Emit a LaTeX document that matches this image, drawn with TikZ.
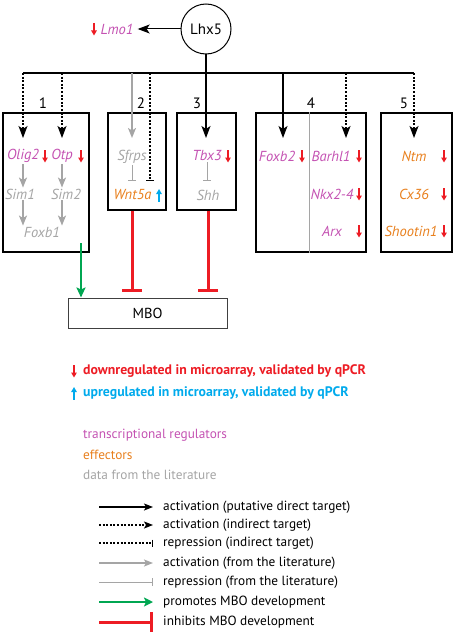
\documentclass[tikz,border=0pt]{standalone}
\usepackage{fontspec}
\setmainfont{PT Sans}
\usetikzlibrary{arrows.meta,positioning}

\definecolor{regul}{RGB}{196,82,178}
\definecolor{effect}{RGB}{232,128,30}
\definecolor{litgray}{RGB}{165,165,165}
\definecolor{downred}{RGB}{237,28,36}
\definecolor{upblue}{RGB}{0,170,236}
\definecolor{mbogreen}{RGB}{0,166,81}

\tikzset{
  gene/.style={font=\itshape\fontsize{14.5}{14.5}\selectfont, inner sep=1pt},
  reg/.style={gene, text=regul},
  eff/.style={gene, text=effect},
  lit/.style={gene, text=litgray},
  grp/.style={font=\fontsize{15}{15}\selectfont},
  box/.style={draw, line width=1.2pt, inner sep=0pt},
  direct/.style={line width=1.2pt, -{Stealth[length=12pt,width=9pt,inset=3pt]}},
  indirect/.style={direct, dash pattern=on 2pt off 1.6pt},
  indrep/.style={line width=1.2pt, dash pattern=on 2pt off 1.6pt, -{Bar[width=8pt]}},
  litact/.style={litgray, line width=1.5pt, -{Stealth[length=10pt,width=8pt,inset=2.5pt]}},
  litrep/.style={litgray, line width=1pt, -{Bar[width=8pt]}},
  promote/.style={mbogreen, line width=2.6pt, -{Stealth[length=10pt,width=9pt,inset=2pt]}},
  inhib/.style={downred, line width=3pt, -{Bar[width=20pt,line width=3pt]}},
  legtxt/.style={anchor=west, inner sep=0pt, font=\fontsize{13.3}{13.3}\selectfont},
  legbold/.style={legtxt, font=\bfseries\fontsize{13.8}{13.8}\selectfont},
  legdirect/.style={line width=1.2pt, -{Stealth[length=9pt,width=7pt,inset=2pt]}},
  legindirect/.style={legdirect, dash pattern=on 2pt off 1.6pt},
  legindrep/.style={line width=1.2pt, dash pattern=on 2pt off 1.6pt, -{Bar[width=7pt]}},
  leglitact/.style={litact, -{Stealth[length=9pt,width=7pt,inset=2pt]}},
  leglitrep/.style={litrep},
  legpromote/.style={promote, -{Stealth[length=9pt,width=9pt,inset=2pt]}},
  leginhib/.style={inhib},
  dn/.pic={\draw[downred, line width=1.6pt, -{Triangle[length=5pt,width=5.5pt]}] (0,-6) -- (0,6.5);},
  up/.pic={\draw[upblue, line width=1.6pt, -{Triangle[length=5pt,width=5.5pt]}] (0,6.5) -- (0,-6);},
}

\begin{document}
\begin{tikzpicture}[x=1pt,y=-1pt]
\useasboundingbox (0,0) rectangle (454,634);
% Lhx5 et sa cible directe Lmo1
\node[circle, draw, line width=1pt, minimum size=50pt, font=\fontsize{15}{15}\selectfont] (lhx5) at (206,29) {Lhx5};
\node[reg] (lmo1) at (117,29) {Lmo1};
\pic at (94,29) {dn};
\draw[direct, line width=1pt, shorten >=3pt] (lhx5.west) -- (lmo1.east);
% barre de distribution
\coordinate (top) at (206,73);
\coordinate (d1) at (23,73);
\coordinate (d2) at (62,73);
\coordinate (d3) at (132,73);
\coordinate (d4) at (150,73);
\coordinate (d5) at (206,73);
\coordinate (d6) at (283,73);
\coordinate (d7) at (346,73);
\coordinate (d8) at (414,73);
\coordinate (tiprow) at (0,138);
\coordinate (reprow) at (0,181);
\draw[line width=1.2pt] (lhx5.south) -- (top);
\draw[line width=1.2pt] (d1) -- (d8);
% groupes
\node[box, minimum width=86pt, minimum height=139pt] (box1) at (46,182.5) {};
\node[box, minimum width=58pt, minimum height=97pt] (box2) at (137,161.5) {};
\node[box, minimum width=59pt, minimum height=97pt] (box3) at (206.5,161.5) {};
\node[box, minimum width=110pt, minimum height=139pt] (box4) at (311,182.5) {};
\node[box, minimum width=71pt, minimum height=139pt] (box5) at (416.5,182.5) {};
\coordinate (div) at (309,0);
\draw[litgray, line width=1pt] (box4.north -| div) -- (box4.south -| div);
\node[grp] (n1) at (43,103) {1};
\node[grp] (n2) at (141,103) {2};
\node[grp] (n3) at (197,103) {3};
\node[grp] (n4) at (311,103) {4};
\node[grp] (n5) at (404,103) {5};
% genes
\node[reg] (olig2) at (23,156) {Olig2};
\node[reg] (otp) at (62,156) {Otp};
\node[lit] (sim1) at (20,194) {Sim1};
\node[lit] (sim2) at (66,194) {Sim2};
\node[lit] (foxb1) at (42,232) {Foxb1};
\node[lit] (sfrps) at (132,157) {Sfrps};
\node[eff] (wnt5a) at (132.5,195) {Wnt5a};
\node[reg] (tbx3) at (207,156) {Tbx3};
\node[lit] (shh) at (208,195) {Shh};
\node[reg] (foxb2) at (277,156) {Foxb2};
\node[reg] (barhl1) at (331,156) {Barhl1};
\node[reg] (nkx) at (332,194) {Nkx2-4};
\node[reg] (arx) at (332,231) {Arx};
\node[eff] (ntm) at (414,156) {Ntm};
\node[eff] (cx36) at (414,194) {Cx36};
\node[eff] (shootin) at (411,231) {Shootin1};
\foreach \p in {(45,156),(81,156),(228,156),(302,156),(359,156),(359,194),(359,231),(444,156),(444,194),(444,231)}
  \pic at \p {dn};
\pic at (159,195) {up};
% liens depuis Lhx5
\draw[indirect] (d1) -- (d1 |- tiprow);
\draw[indirect] (d2) -- (d2 |- tiprow);
\draw[litact] (d3) -- (d3 |- tiprow);
\draw[indrep] (d4) -- (d4 |- reprow);
\draw[direct] (d5) -- (d5 |- tiprow);
\draw[direct] (d6) -- (d6 |- tiprow);
\draw[indirect] (d7) -- (d7 |- tiprow);
\draw[indirect] (d8) -- (d8 |- tiprow);
% liens de la litterature
\draw[litact] (olig2.south -| d1) -- (sim1.north -| d1);
\draw[litact] (otp.south) -- (sim2.north -| otp);
\draw[litact] (sim1.south -| d1) -- (foxb1.north -| d1);
\draw[litact] (sim2.south -| otp) -- (foxb1.north -| otp);
\draw[litrep] (sfrps.south) -- (sfrps |- reprow);
\draw[litrep] (tbx3.south) -- (tbx3 |- reprow);
% MBO
\node[draw, black!75, text=black, line width=1pt, minimum width=159pt, minimum height=30pt, font=\fontsize{14.5}{14.5}\selectfont] (mbo) at (147.5,313) {MBO};
\coordinate (g) at (81,243);
\draw[promote] (g) -- (g |- mbo.north);
\draw[inhib, shorten >=6pt] (box2.south -| sfrps) -- (mbo.north -| sfrps);
\draw[inhib, shorten >=6pt] (box3.south -| shh) -- (mbo.north -| shh);
% legende
\pic at (74,371) {dn};
\node[legbold, text=downred] (ldown) at (83,371) {downregulated in microarray, validated by qPCR};
\pic at (74,393) {up};
\node[legbold, text=upblue] (lup) at (83,393) {upregulated in microarray, validated by qPCR};
\node[legtxt, text=regul] (lreg) at (83,435) {transcriptional regulators};
\node[legtxt, text=effect] (leff) at (83,455) {effectors};
\node[legtxt, text=litgray] (llit) at (83,475) {data from the literature};
\foreach \y/\sty/\txt in {
  507/legdirect/activation (putative direct target),
  525/legindirect/activation (indirect target),
  543/legindrep/repression (indirect target),
  563/leglitact/activation (from the literature),
  582/leglitrep/repression (from the literature),
  602/legpromote/promotes MBO development,
  622/leginhib/inhibits MBO development}{
  \coordinate (s\y) at (99,\y);
  \node[legtxt] (t\y) at (163,\y) {\txt};
  \draw[style=\sty] (s\y) -- ++(54,0);
}
\end{tikzpicture}
\end{document}
